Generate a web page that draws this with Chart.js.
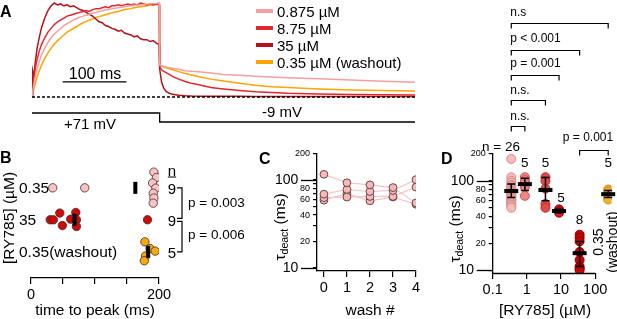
<!DOCTYPE html>
<html>
<head>
<meta charset="utf-8">
<script src="https://cdn.jsdelivr.net/npm/chart.js@4.4.1/dist/chart.umd.min.js"></script>
<style>
  body { margin: 0; background: #fff; }
  #wrap { position: relative; width: 617px; height: 319px; overflow: hidden;
          font-family: 'Liberation Sans', Arial, sans-serif; color: #000; }
  canvas { position: absolute; }
  .t { position: absolute; white-space: nowrap; line-height: 1; }
  .t sub { font-size: 0.68em; vertical-align: -0.3em; line-height: 0; }
</style>
</head>
<body>
<div id="wrap">
  <canvas id="cA" width="430" height="135" style="left:0;top:0"></canvas>
  <canvas id="cB" width="250" height="165" style="left:0;top:140px"></canvas>
  <canvas id="cC" width="160" height="170" style="left:270px;top:140px"></canvas>
  <canvas id="cD" width="207" height="319" style="left:410px;top:0"></canvas>
</div>
<script>
// ---------- A: normalised currents (ms) ----------
const aTime = [0,1,3,5,8,11,15,20,25,30,35,40,45,50,55,60,65,70,75,80,85,90,95,100,105,110,115,120,125,130,135,140,145,150,155,160,165,170,175,180,185,190,195,199,
               200,201,203,206,210,215,220,230,240,250,265,280,300,325,350,375,400,450,500,550,600];
const a0875 = [0,0.05,0.14,0.21,0.30,0.37,0.45,0.52,0.58,0.63,0.67,0.70,0.73,0.76,0.78,0.80,0.82,0.835,0.85,0.86,0.87,0.88,0.89,0.90,0.91,0.915,0.925,0.93,0.94,0.945,0.95,0.955,0.96,0.965,0.97,0.975,0.98,0.98,0.985,0.99,0.99,0.995,0.995,1.0,
               0.34,0.337,0.333,0.328,0.32,0.31,0.305,0.295,0.28,0.273,0.265,0.255,0.24,0.23,0.22,0.212,0.205,0.195,0.18,0.168,0.156];
const a875  = [0,0.08,0.20,0.30,0.40,0.48,0.56,0.63,0.69,0.73,0.77,0.80,0.82,0.84,0.86,0.87,0.88,0.89,0.90,0.91,0.92,0.91,0.93,0.94,0.94,0.95,0.96,0.95,0.97,0.97,0.98,0.97,0.98,0.99,0.98,0.99,0.98,1.0,0.99,0.98,0.99,0.98,0.99,0.98,
               0.33,0.31,0.29,0.275,0.26,0.24,0.22,0.19,0.165,0.145,0.125,0.10,0.085,0.07,0.057,0.048,0.04,0.032,0.027,0.024,0.022];
const a35   = [0,0.28,0.22,0.36,0.52,0.62,0.74,0.84,0.92,0.97,1.0,0.98,0.99,0.97,0.98,0.96,0.97,0.95,0.93,0.92,0.90,0.88,0.86,0.83,0.80,0.79,0.76,0.75,0.73,0.72,0.70,0.71,0.68,0.67,0.66,0.64,0.65,0.62,0.61,0.61,0.59,0.60,0.57,0.56,
               0.30,0.25,0.16,0.10,0.06,0.04,0.028,0.018,0.013,0.01,0.009,0.008,0.007,0.007,0.006,0.006,0.006,0.005,0.005,0.005,0.005];
const aWash = [0,0.03,0.09,0.14,0.21,0.27,0.34,0.41,0.47,0.52,0.56,0.60,0.63,0.66,0.69,0.71,0.73,0.75,0.77,0.79,0.805,0.82,0.83,0.845,0.855,0.865,0.875,0.885,0.895,0.905,0.91,0.92,0.93,0.935,0.94,0.95,0.955,0.96,0.965,0.97,0.975,0.98,0.985,0.99,
               0.34,0.335,0.33,0.32,0.31,0.30,0.29,0.27,0.25,0.235,0.21,0.19,0.17,0.145,0.125,0.11,0.10,0.085,0.075,0.068,0.064];
const aNames  = ['0.875 µM', '8.75 µM', '35 µM', '0.35 µM (washout)'];
const aColors = ['#f4a0a0', '#e3262b', '#b3121a', '#ffa400'];
const voltTime = [0, 200, 200, 600];
const voltMv   = [71, 71, -9, -9];
const scaleBarMs = [48, 148];

// ---------- B: time to peak ----------
const bRows   = ['0.35', '35', '0.35(washout)'];
const bRowPos = [3, 2, 1];
const bN      = [9, 9, 5];
const bTime   = [[34,84,192,196,190,195,191,192,191], [30,35,45,49,62,70,71,71,182], [178,186,194,179,177]];
const bJitter = [[0,0,0.49,0.32,0.15,-0.01,-0.17,-0.32,-0.48], [0,0,0.21,-0.18,0.02,0.23,0,-0.21,0], [0.31,0.1,0.02,-0.13,-0.28]];
const bMean   = [163, 68, 183];
const bP      = ['p = 0.003', 'p = 0.006'];
const bTicks  = [0, 50, 100, 150, 200];
const bFill   = ['#f7c3c3', '#cc0a0a', '#f5a90c'];

// ---------- C: tau deact vs wash ----------
const cWash  = [0, 1, 2, 3, 4];
const cCells = [[116,93,88,82,55], [69,78,74,76,101], [63,64,65,65,83], [59,70,58,64,53]];
const logTicks    = [10,20,30,40,50,60,70,80,90,100,200];
const logTickText = ['10   ','20','','40','','60','','80','','100   ','200'];

// ---------- D: tau deact vs [RY785] ----------
const dConc   = [0.35, 0.875, 3.5, 8.75, 35, 240];   // last: washout, drawn right of axis
const dGroups = [
  [176,110,100,95,90,88,85,82,80,78,76,75,73,72,70,68,66,65,63,61,60,58,56,54,52,50],
  [110,102,95,85,68],
  [110,100,82,55,50],
  [48,47,46,45,44],
  [25,23,21,16,13,11,10.5,10],
  [80,76,71,66,62]
];
const dMean = [77, 92, 79, 46, 15.5, 71];
const dLo   = [65, 78, 60, 44, 11, 65];
const dHi   = [92, 107, 109, 48, 21, 78];
const dN    = [26, 5, 5, 5, 8, 5];
const dFill = ['#f6bcbc', '#ef8585', '#e04a4a', '#d62020', '#c40606', '#f7b32b'];
const dEdge = ['#d98a8a', '#cc5656', '#b32e2e', '#a31010', '#8a0000', '#c98a10'];
const dXTicks = [0.1, 1, 10, 100];
const dXText  = ['0.1', '1', '10', '100'];
const sigPairs = [[0.35,240], [0.35,35], [0.35,8.75], [0.35,3.5], [0.35,0.875], [35,240]];
const sigText  = ['n.s', 'p < 0.001', 'p = 0.001', 'n.s.', 'n.s.', 'p = 0.001'];

Chart.defaults.font.family = "'Liberation Sans', Arial, sans-serif";
Chart.defaults.color = '#000';
Chart.defaults.animation = false;
Chart.defaults.responsive = false;
Chart.defaults.plugins.legend.display = false;
Chart.defaults.plugins.tooltip.enabled = false;

const grid = { drawOnChartArea: false, color: '#000', tickColor: '#000', tickLength: 6, lineWidth: 1.2 };
const border = { color: '#000', width: 1.3 };

// ===== A =====
const pts = (xs, ys) => xs.map((x, i) => ({ x: x, y: ys[i] }));
const aSeries = [a0875, a875, a35, aWash];
new Chart(document.getElementById('cA'), {
  type: 'line',
  data: {
    datasets: [
      { data: pts([0, 600], [0, 0]), borderColor: '#000', borderWidth: 1.5, borderDash: [3, 2] },
      ...aSeries.map((s, i) => ({ data: pts(aTime, s), borderColor: aColors[i], borderWidth: 1.5 })),
      { data: pts(scaleBarMs, [0.16, 0.16]), borderColor: '#000', borderWidth: 1.3 },
      { data: pts(voltTime, voltMv), yAxisID: 'yv', borderColor: '#000', borderWidth: 1.3 }
    ]
  },
  options: {
    layout: { padding: { left: 32, right: 15, top: 2, bottom: 10 } },
    elements: { point: { radius: 0 }, line: { tension: 0 } },
    scales: {
      x: { type: 'linear', min: 0, max: 600, display: false },
      y: { min: -0.298, max: 1.0106, display: false },
      yv: { min: -35.6, max: 1057.7, display: false }
    }
  }
});

// ===== B =====
const bPlugin = {
  id: 'bMarks',
  afterDatasetsDraw(chart) {
    const { ctx, scales: { x, y }, chartArea } = chart;
    ctx.save();
    ctx.fillStyle = '#000';
    bMean.forEach((m, i) => {
      const px = x.getPixelForValue(m), py = y.getPixelForValue(bRowPos[i]);
      ctx.fillRect(px - 2, py - 6, 4, 12);
    });
    const bx = chartArea.right + 23;
    ctx.strokeStyle = '#000'; ctx.lineWidth = 1.2;
    for (let i = 0; i < 2; i++) {
      const y1 = y.getPixelForValue(bRowPos[i]) + (i ? 1.5 : 0);
      const y2 = y.getPixelForValue(bRowPos[i + 1]) - (i ? 0 : 1.5);
      ctx.beginPath();
      ctx.moveTo(bx - 5, y1); ctx.lineTo(bx, y1); ctx.lineTo(bx, y2); ctx.lineTo(bx - 5, y2);
      ctx.stroke();
    }
    ctx.restore();
  }
};
const chartB = new Chart(document.getElementById('cB'), {
  type: 'scatter',
  data: {
    datasets: bRows.map((r, i) => ({
      data: bTime[i].map((t, j) => ({ x: t, y: bRowPos[i] + bJitter[i][j] })),
      backgroundColor: bFill[i], borderColor: '#4a2a2a', borderWidth: 0.8, pointRadius: 4.2
    }))
  },
  options: {
    layout: { padding: { left: 31, right: 91, top: 20, bottom: 1 } },
    scales: {
      x: {
        type: 'linear', min: 0, max: 200,
        afterBuildTicks: s => { s.ticks = bTicks.map(v => ({ value: v })); },
        afterFit: s => { s.height = 26; },
        ticks: { font: { size: 14.5 }, padding: 2, maxRotation: 0, autoSkip: false,
                 callback: v => (v === 0 || v === 200) ? String(v) : '' },
        grid: grid, border: border
      },
      y: { display: false, min: 0.18, max: 3.87 }
    }
  },
  plugins: [bPlugin]
});

// ===== shared log y axis =====
function logY(min, width) {
  return {
    type: 'logarithmic', min: min, max: 200,
    afterBuildTicks: s => { s.ticks = logTicks.map(v => ({ value: v })); },
    afterFit: s => { s.width = width; },
    ticks: {
      autoSkip: false, padding: 3,
      callback: (v, i) => logTickText[i],
      font: c => ({ size: (c.tick && (c.tick.value === 10 || c.tick.value === 100)) ? 14 : 9 })
    },
    grid: Object.assign({}, grid, { tickLength: 4 }), border: border
  };
}
const longTicks = {
  id: 'longTicks',
  afterDraw(chart) {
    const { ctx, scales: { y }, chartArea } = chart;
    ctx.save();
    ctx.strokeStyle = '#000'; ctx.lineWidth = 1.3;
    [10, 100].forEach(v => {
      const py = Math.round(y.getPixelForValue(v)) + 0.5;
      ctx.beginPath(); ctx.moveTo(chartArea.left - 16, py); ctx.lineTo(chartArea.left, py); ctx.stroke();
    });
    ctx.restore();
  }
};

// ===== C =====
new Chart(document.getElementById('cC'), {
  type: 'line',
  data: {
    datasets: cCells.map(c => ({
      data: pts(cWash, c), borderColor: '#f6c2c2', borderWidth: 1.2,
      pointRadius: 3.9, pointBackgroundColor: '#f6b9b9', pointBorderColor: '#5a3838', pointBorderWidth: 0.9
    }))
  },
  options: {
    layout: { padding: { left: 0, right: 14, top: 13.5, bottom: 13 } },
    elements: { line: { tension: 0 } },
    scales: {
      x: {
        type: 'linear', min: -0.3, max: 4,
        afterBuildTicks: s => { s.ticks = cWash.map(v => ({ value: v })); },
        afterFit: s => { s.height = 26; },
        ticks: { font: { size: 14.5 }, padding: 2, maxRotation: 0, autoSkip: false },
        grid: grid, border: border
      },
      y: logY(9.25, 47)
    }
  },
  plugins: [longTicks]
});

// ===== D =====
const dPlugin = {
  id: 'dMarks',
  afterDraw(chart) {
    const { ctx, scales: { x, y }, chartArea } = chart;
    ctx.save();
    ctx.strokeStyle = '#000'; ctx.fillStyle = '#000'; ctx.lineWidth = 1.3;
    // x axis line, 0.1 .. 100 only
    const yb = Math.round(chartArea.bottom) + 0.5;
    ctx.beginPath(); ctx.moveTo(x.getPixelForValue(0.1), yb); ctx.lineTo(x.getPixelForValue(100), yb); ctx.stroke();
    // mean and error bars
    dConc.forEach((c, i) => {
      const px = x.getPixelForValue(c);
      const lo = y.getPixelForValue(dLo[i]), hi = y.getPixelForValue(dHi[i]);
      ctx.lineWidth = 1.5;
      ctx.beginPath();
      ctx.moveTo(px, lo); ctx.lineTo(px, hi);
      ctx.moveTo(px - 4, lo); ctx.lineTo(px + 4, lo);
      ctx.moveTo(px - 4, hi); ctx.lineTo(px + 4, hi);
      ctx.stroke();
      ctx.fillRect(px - 7, y.getPixelForValue(dMean[i]) - 2, 14, 4);
    });
    // significance brackets
    const levels = [23, 50, 75, 100, 126, 150];
    ctx.lineWidth = 1.2;
    sigPairs.forEach((p, i) => {
      const x1 = x.getPixelForValue(p[0]), x2 = x.getPixelForValue(p[1]), yy = levels[i] + 0.5;
      ctx.beginPath();
      ctx.moveTo(x1, yy + 5); ctx.lineTo(x1, yy); ctx.lineTo(x2, yy); ctx.lineTo(x2, yy + 5);
      ctx.stroke();
    });
    ctx.restore();
  }
};
const chartD = new Chart(document.getElementById('cD'), {
  type: 'scatter',
  data: {
    datasets: dGroups.map((g, i) => ({
      data: g.map(v => ({ x: dConc[i], y: v })),
      backgroundColor: dFill[i], borderColor: dEdge[i], borderWidth: 1, pointRadius: 4.5
    }))
  },
  options: {
    layout: { padding: { left: 0, right: 3.4, top: 154, bottom: 20 } },
    scales: {
      x: {
        type: 'logarithmic', min: 0.1, max: 300,
        afterBuildTicks: s => { s.ticks = dXTicks.map(v => ({ value: v })); },
        afterFit: s => { s.height = 26; },
        ticks: { font: { size: 14.5 }, padding: 2, maxRotation: 0, autoSkip: false, callback: (v, i) => dXText[i] },
        grid: grid, border: { display: false }
      },
      y: logY(9.3, 82.7)
    }
  },
  plugins: [longTicks, dPlugin]
});

// ===== text =====
const wrap = document.getElementById('wrap');
function txt(html, x, y, size, align, extra) {
  const d = document.createElement('div');
  d.className = 't';
  d.innerHTML = html;
  d.style.left = x + 'px';
  d.style.top = y + 'px';
  d.style.fontSize = size + 'px';
  const ax = align === 'left' ? '0' : align === 'right' ? '-100%' : '-50%';
  d.style.transform = 'translate(' + ax + ',-50%)' + (extra && extra.rot ? ' rotate(' + extra.rot + 'deg)' : '');
  if (extra && extra.bold) d.style.fontWeight = 'bold';
  if (extra && extra.css) Object.assign(d.style, extra.css);
  wrap.appendChild(d);
  return d;
}

// panel letters
txt('A', 0, 12, 16, 'left', { bold: true });
txt('B', 0, 158, 16, 'left', { bold: true });
txt('C', 259, 159, 16, 'left', { bold: true });
txt('D', 441, 159, 16, 'left', { bold: true });

// A legend and labels
const legY = [11, 28, 45, 62];
aNames.forEach((n, i) => {
  const m = document.createElement('div');
  Object.assign(m.style, { position: 'absolute', left: '256px', top: (legY[i] - 2) + 'px', width: '17px', height: '4px', background: aColors[i] });
  wrap.appendChild(m);
  txt(n, 277, legY[i], 15, 'left');
});
txt('100 ms', 95, 74, 16);
txt('+71 mV', 90, 123, 15);
txt('-9 mV', 282, 111, 15);

// B labels
const bY = bRowPos.map(v => 140 + chartB.scales.y.getPixelForValue(v));
bRows.forEach((r, i) => txt(r, 19, bY[i], 15.5, 'left'));
txt('[RY785] (µM)', 9, 218, 15.5, 'center', { rot: -90 });
txt('time to peak (ms)', 95, 310, 15.5);
txt('<u>n</u>', 172, 170, 15);
bN.forEach((n, i) => txt(String(n), 172, bY[i], 15));
bP.forEach((p, i) => txt(p, 188, (bY[i] + bY[i + 1]) / 2 - 1, 13.5, 'left'));

// C labels
txt('τ<sub>deact</sub> (ms)', 280, 227, 15.5, 'center', { rot: -90 });
txt('wash #', 370, 310, 15.5);

// D labels
const dx = c => 410 + chartD.scales.x.getPixelForValue(c);
txt('τ<sub>deact</sub> (ms)', 455, 229, 15.5, 'center', { rot: -90 });
txt('[RY785] (µM)', 545, 310, 15.5);
txt('0.35<br>(washout)', 605, 242, 14, 'center', { rot: -90, css: { textAlign: 'center', lineHeight: '1.0' } });
const nY = [147, 163, 163, 198, 220, 163];
dN.forEach((n, i) => txt(i === 0 ? 'n = ' + n : String(n), i === 0 ? 501 : dx(dConc[i]) + (i === 3 ? 2 : 0), nY[i], 13.5));
const sigTy = [12, 38, 63, 90, 116];
sigText.forEach((s, i) => {
  if (i < 5) txt(s, dx(sigPairs[i][0]) - 1, sigTy[i], 12, 'left');
  else txt(s, 588, 137, 12);
});
</script>
</body>
</html>
